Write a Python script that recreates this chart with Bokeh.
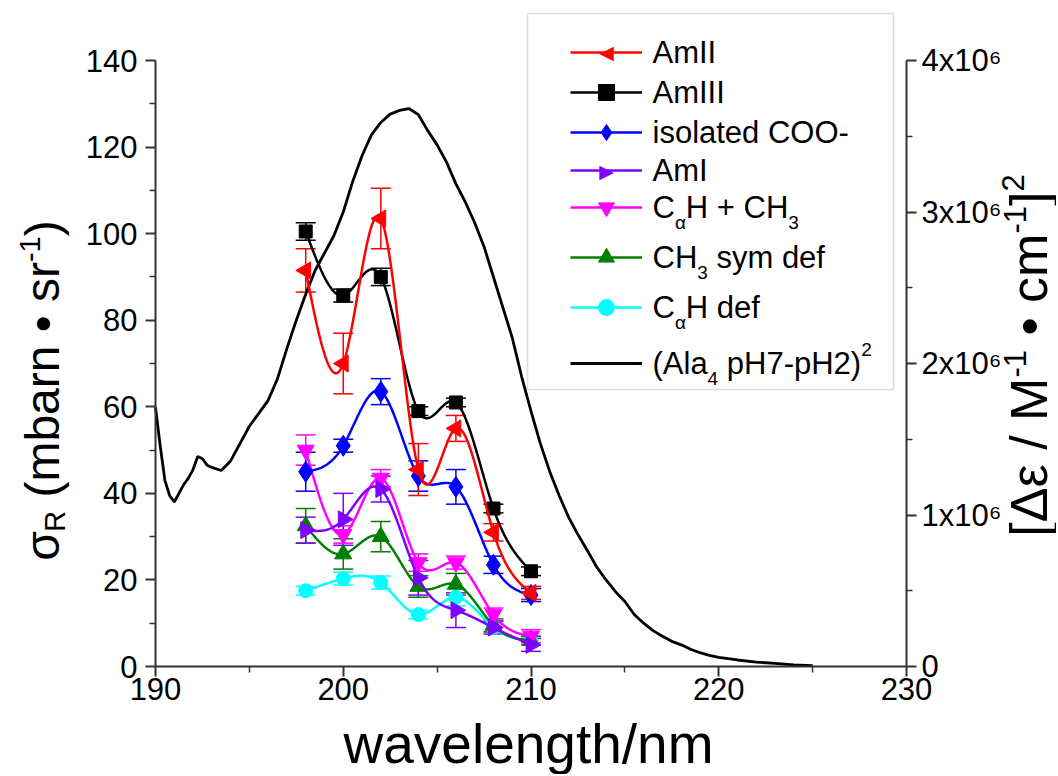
import numpy as np
from bokeh.plotting import figure
from bokeh.models import (Range1d, LinearAxis, FixedTicker, CustomJSTickFormatter, Whisker,
                          TeeHead, ColumnDataSource, Legend, LegendItem, Label, BoxAnnotation)
from bokeh.embed import file_html
from bokeh.resources import INLINE

# ---------------- data ----------------
wavelength = [198, 200, 202, 204, 206, 208, 210]

amII = [91.5, 70.0, 103.5, 45.5, 55.0, 31.0, 17.0]
amII_err = [5.0, 7.0, 7.0, 6.0, 3.0, 2.0, 1.5]
amIII = [100.5, 85.7, 90.0, 59.0, 61.0, 36.5, 22.0]
amIII_err = [2.0, 1.5, 2.0, 1.0, 1.0, 1.0, 1.0]
coo = [45.0, 51.0, 63.5, 44.0, 41.5, 23.5, 16.5]
coo_err = [4.5, 1.5, 3.0, 3.5, 4.0, 2.0, 1.5]
amI = [31.5, 34.0, 41.0, 20.5, 13.0, 9.0, 5.0]
amI_err = [3.0, 6.0, 3.0, 4.0, 4.0, 1.5, 1.5]
cah_ch3 = [50.0, 30.5, 43.5, 24.0, 24.0, 12.0, 7.0]
cah_ch3_err = [3.5, 2.0, 2.0, 2.0, 1.5, 1.5, 1.5]
ch3_sym = [32.5, 26.0, 30.0, 18.5, 19.0, 9.5, 6.0]
ch3_sym_err = [4.0, 3.5, 3.5, 2.5, 2.5, 1.5, 1.0]
cah_def = [17.5, 20.3, 19.4, 12.0, 16.0, 9.0, 6.0]
cah_def_err = [1.0, 1.5, 1.5, 1.0, 2.0, 1.0, 1.0]

# (Ala4 pH7-pH2)^2 in units of 1e6 (M^-1 cm^-1)^2
cd_wavelength = [190.0, 190.25, 190.5, 190.75, 191.0, 191.25, 191.5, 191.75, 192.0, 192.25,
                 192.5, 192.75, 193.0, 193.5, 194.0, 194.5, 195.0, 195.5, 196.0, 196.5,
                 197.0, 197.5, 198.0, 198.5, 199.0, 199.5, 200.0, 200.5, 201.0, 201.5,
                 202.0, 202.5, 203.0, 203.5, 204.0, 204.5, 205.0, 205.5, 206.0, 206.5,
                 207.0, 207.5, 208.0, 208.5, 209.0, 209.5, 210.0, 210.5, 211.0, 211.5,
                 212.0, 212.5, 213.0, 213.5, 214.0, 214.5, 215.0, 215.5, 216.0, 216.5,
                 217.0, 217.5, 218.0, 218.5, 219.0, 219.5, 220.0, 221.0, 222.0, 223.0,
                 224.0, 225.0]
cd_signal = [1.711, 1.457, 1.229, 1.129, 1.086, 1.143, 1.200, 1.243, 1.300, 1.386,
             1.371, 1.329, 1.314, 1.294, 1.357, 1.471, 1.586, 1.671, 1.757, 1.900,
             2.100, 2.286, 2.457, 2.614, 2.729, 2.843, 3.000, 3.200, 3.371, 3.509,
             3.591, 3.646, 3.671, 3.683, 3.643, 3.537, 3.443, 3.329, 3.186, 3.066,
             2.929, 2.771, 2.571, 2.371, 2.171, 1.914, 1.686, 1.471, 1.286, 1.129,
             0.986, 0.871, 0.766, 0.657, 0.571, 0.494, 0.429, 0.343, 0.286, 0.237,
             0.200, 0.166, 0.143, 0.114, 0.091, 0.074, 0.060, 0.043, 0.029, 0.020,
             0.011, 0.006]

x_ticks = [190, 200, 210, 220, 230]
x_minor = [195, 205, 215, 225]
y_ticks = [0, 20, 40, 60, 80, 100, 120, 140]
y_minor = [10, 30, 50, 70, 90, 110, 130]
y2_ticks = [0, 1e6, 2e6, 3e6, 4e6]
y2_minor = [0.5e6, 1.5e6, 2.5e6, 3.5e6]

# ---------------- layout (frame spans the whole canvas) ----------------
W, H = 1056, 774
AX_L, AX_R, AX_B, AX_T = 155, 906, 666, 60   # pixel positions of 190, 230, 0, 140
px_nm = (AX_R - AX_L) / (x_ticks[-1] - x_ticks[0])
px_y = (AX_B - AX_T) / (y_ticks[-1] - y_ticks[0])
px_y2 = (AX_B - AX_T) / (y2_ticks[-1] - y2_ticks[0])
x_start = x_ticks[0] - AX_L / px_nm
x_end = x_ticks[-1] + (W - AX_R) / px_nm
y_start = y_ticks[0] - (H - AX_B) / px_y
y_end = y_ticks[-1] + AX_T / px_y
y2_start = y2_ticks[0] - (H - AX_B) / px_y2
y2_end = y2_ticks[-1] + AX_T / px_y2
FONT = "Liberation Sans"

def sx(rx):
    return rx

def sy(ry):
    return H - ry

NBSP = "\u00a0"
WID = {' ': 278, NBSP: 278, '(': 333, ')': 333, '[': 278, ']': 278, '+': 584, '-': 333,
       '/': 278, '\u2022': 350, 'A': 667, 'C': 722, 'H': 722, 'I': 278, 'M': 833, 'O': 778,
       'R': 722, 'a': 556, 'b': 556, 'c': 500, 'd': 556, 'e': 556, 'f': 278, 'g': 556,
       'h': 556, 'i': 222, 'l': 222, 'm': 833, 'n': 556, 'o': 556, 'p': 556, 'r': 333,
       's': 500, 't': 278, 'v': 500, 'w': 722, 'x': 500, 'y': 500,
       '\u03c3': 600, '\u03b1': 578, '\u0394': 668, '\u03b5': 446}

def tw(s, size):
    return sum(WID.get(ch, 556) for ch in s) / 1000.0 * size

def natural_spline(xs, ys, n=60):
    x = np.asarray(xs, float)
    y = np.asarray(ys, float)
    N = len(x)
    h = np.diff(x)
    A = np.zeros((N, N))
    b = np.zeros(N)
    A[0, 0] = A[-1, -1] = 1.0
    for i in range(1, N - 1):
        A[i, i - 1] = h[i - 1]
        A[i, i] = 2 * (h[i - 1] + h[i])
        A[i, i + 1] = h[i]
        b[i] = 3 * ((y[i + 1] - y[i]) / h[i] - (y[i] - y[i - 1]) / h[i - 1])
    c = np.linalg.solve(A, b)
    ox, oy = [], []
    for i in range(N - 1):
        bb = (y[i + 1] - y[i]) / h[i] - h[i] * (2 * c[i] + c[i + 1]) / 3
        d = (c[i + 1] - c[i]) / (3 * h[i])
        t = np.linspace(0, h[i], n, endpoint=(i == N - 2))
        ox.extend(x[i] + t)
        oy.extend(y[i] + bb * t + c[i] * t ** 2 + d * t ** 3)
    return ox, oy

p = figure(width=W, height=H, x_range=Range1d(x_start, x_end),
           y_range=Range1d(y_start, y_end),
           output_backend="svg", toolbar_location=None,
           min_border_left=0, min_border_right=0, min_border_top=0, min_border_bottom=0)
p.outline_line_color = None
p.background_fill_color = "white"
p.border_fill_color = "white"
p.xgrid.visible = False
p.ygrid.visible = False
p.extra_y_ranges = {"cd": Range1d(y2_start, y2_end)}

right_axis = LinearAxis(y_range_name="cd")
p.add_layout(right_axis, "right")

def style_axis(ax, standoff):
    ax.axis_line_width = 2
    ax.axis_line_color = "#333333"
    ax.major_tick_line_width = 2
    ax.major_tick_line_color = "#333333"
    ax.minor_tick_line_width = 1.5
    ax.minor_tick_line_color = "#333333"
    ax.major_tick_out = 10
    ax.major_tick_in = 0
    ax.minor_tick_out = 6
    ax.minor_tick_in = 0
    ax.major_label_text_font = FONT
    ax.major_label_text_font_size = "31px"
    ax.major_label_text_color = "black"
    ax.major_label_standoff = standoff

xa = p.xaxis[0]
ya = p.yaxis[0]
style_axis(xa, 1)
style_axis(ya, 8)
style_axis(right_axis, 5)
xa.ticker = FixedTicker(ticks=x_ticks, minor_ticks=x_minor)
xa.bounds = (x_ticks[0], x_ticks[-1])
xa.fixed_location = y_ticks[0]
ya.ticker = FixedTicker(ticks=y_ticks, minor_ticks=y_minor)
ya.bounds = (y_ticks[0], y_ticks[-1])
ya.fixed_location = x_ticks[0]
right_axis.ticker = FixedTicker(ticks=y2_ticks, minor_ticks=y2_minor)
right_axis.bounds = (y2_ticks[0], y2_ticks[-1])
right_axis.fixed_location = x_ticks[-1]
right_axis.formatter = CustomJSTickFormatter(
    code="return tick == 0 ? '0' : (tick / 1e6).toFixed(0) + 'x10\u2076';")

# CD curve (right axis)
cd_r = p.line(cd_wavelength, [v * 1e6 for v in cd_signal], y_range_name="cd",
              line_color="black", line_width=2.8)

series = [
    ("AmII", amII, amII_err, "#FF0000", "triangle", np.pi / 2, 17),
    ("AmIII", amIII, amIII_err, "#000000", "square", 0.0, 13),
    ("isolated COO-", coo, coo_err, "#0000FF", "diamond", 0.0, 21),
    ("AmI", amI, amI_err, "#8000FF", "triangle", -np.pi / 2, 17),
    ("CaH + CH3", cah_ch3, cah_ch3_err, "#FF00FF", "inverted_triangle", 0.0, 17),
    ("CH3 sym def", ch3_sym, ch3_sym_err, "#008000", "triangle", 0.0, 17),
    ("CaH def", cah_def, cah_def_err, "#00FFFF", "circle", 0.0, 14),
]

renderers = {}
for name, vals, errs, color, marker, ang, size in reversed(series):
    xs, ys = natural_spline(wavelength, vals)
    lr = p.line(xs, ys, line_color=color, line_width=2.5)
    src = ColumnDataSource(dict(base=wavelength,
                                upper=[v + e for v, e in zip(vals, errs)],
                                lower=[v - e for v, e in zip(vals, errs)]))
    p.add_layout(Whisker(source=src, base="base", upper="upper", lower="lower",
                         line_color=color, line_width=1.5,
                         upper_head=TeeHead(size=20, line_color=color, line_width=1.5),
                         lower_head=TeeHead(size=20, line_color=color, line_width=1.5)))
    sr = p.scatter(wavelength, vals, marker=marker, angle=ang, size=size,
                   fill_color=color, line_color=color)
    # legend glyphs cannot show rotated triangles: keep only the line there
    renderers[name] = [lr] if ang != 0.0 else [lr, sr]
renderers["CD"] = [cd_r]

# ---------------- legend ----------------
p.add_layout(BoxAnnotation(left=sx(527), right=sx(893), bottom=sy(389), top=sy(13),
                           left_units="screen", right_units="screen",
                           bottom_units="screen", top_units="screen",
                           fill_color="white", fill_alpha=1.0,
                           line_color="#8c8c8c", line_width=1.5))

legend_order = ["AmII", "AmIII", "isolated COO-", "AmI", "CaH + CH3", "CH3 sym def",
                "CaH def", "CD"]
entry_y = [51.7, 91.7, 131.7, 170.0, 207.0, 256.7, 306.7, 363.0]
GH = 40
for key, yc in zip(legend_order, entry_y):
    lg = Legend(items=[LegendItem(label=" ", renderers=renderers[key])],
                location=(sx(570), sy(yc + GH / 2)), padding=0, margin=0, spacing=0,
                glyph_width=72, glyph_height=GH, label_width=0, label_height=GH,
                label_standoff=0, label_text_font_size="1px",
                border_line_color=None, background_fill_alpha=0.0)
    p.add_layout(lg)

# rotated-triangle samples for AmII (left) and AmI (right)
for sym, color, yc in [("\u25c0", "#FF0000", entry_y[0]), ("\u25b6", "#8000FF", entry_y[3])]:
    p.add_layout(Label(x=sx(606), y=sy(yc), x_units="screen", y_units="screen", text=sym,
                       text_font="DejaVu Sans", text_font_size="19px", text_color=color,
                       text_align="center", text_baseline="middle"))

def rich(pieces, rx, ry, angle=0.0):
    """pieces: (text, size px, rise px of the piece centre). (rx, ry): centre-line start."""
    pos = 0.0
    for text, size, rise in pieces:
        if angle == 0.0:
            x, y = sx(rx) + pos, sy(ry) + rise
        else:
            x, y = sx(rx) - rise, sy(ry) + pos
        p.add_layout(Label(x=x, y=y, x_units="screen", y_units="screen", text=text,
                           angle=angle, text_font=FONT, text_font_size=f"{size}px",
                           text_color="black", text_align="left",
                           text_baseline="middle"))
        pos += tw(text, size)

LF, SF, SUB, SUP = 31, 19, -15, 14
legend_texts = [
    [("AmII", LF, 0)],
    [("AmIII", LF, 0)],
    [("isolated COO-", LF, 0)],
    [("AmI", LF, 0)],
    [("C", LF, 0), ("\u03b1", SF, SUB), ("H + CH", LF, 0), ("3", SF, SUB)],
    [("CH", LF, 0), ("3", SF, SUB), (NBSP + "sym def", LF, 0)],
    [("C", LF, 0), ("\u03b1", SF, SUB), ("H def", LF, 0)],
    [("(Ala", LF, 0), ("4", SF, SUB), (NBSP + "pH7-pH2)", LF, 0), ("2", SF, SUP)],
]
for pieces, yc in zip(legend_texts, entry_y):
    rich(pieces, 652, yc)

# axis titles
TF = 48
left_title = [("\u03c3", TF, 0), ("R", 29, -12), (NBSP + "(mbarn \u2022 sr", TF, 0),
              ("-1", 29, 13), (")", TF, 0)]
total = sum(tw(t, s) for t, s, r in left_title)
rich(left_title, 42, 390 + total / 2, angle=np.pi / 2)

RTF = 52
right_title = [("[\u0394\u03b5 / M", RTF, 0), ("-1", 31, 14), (NBSP + "\u2022 cm", RTF, 0),
               ("-1", 31, 14), ("]", RTF, 0), ("2", 31, 16)]
total_r = sum(tw(t, s) for t, s, r in right_title)
rich(right_title, 1028, 355 + total_r / 2, angle=np.pi / 2)

p.add_layout(Label(x=sx(528), y=sy(743), x_units="screen", y_units="screen",
                   text="wavelength/nm", text_font=FONT, text_font_size="55px",
                   text_color="black", text_align="center", text_baseline="middle"))

open("out.html", "w").write(file_html(p, INLINE))
